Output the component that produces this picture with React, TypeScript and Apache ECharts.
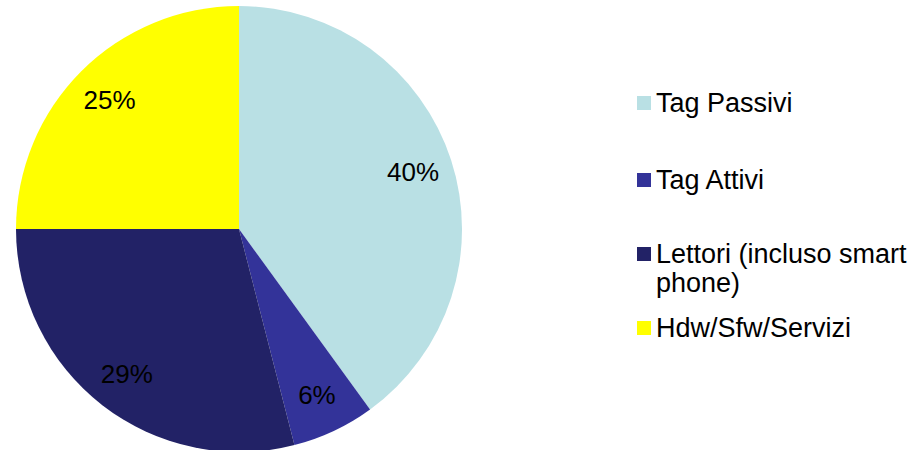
import React, { useEffect, useRef } from "react";
import * as echarts from "echarts";

const categories = ["Tag Passivi", "Tag Attivi", "Lettori (incluso smart phone)", "Hdw/Sfw/Servizi"];
const values = [40, 6, 29, 25];
const colors = ["#B9E0E4", "#333399", "#222266", "#FFFF00"];
const legendLines = [["Tag Passivi"], ["Tag Attivi"], ["Lettori (incluso smart", "phone)"], ["Hdw/Sfw/Servizi"]];

const FONT = "'Liberation Sans', Arial, Helvetica, sans-serif";
const FS = 27;
const LH = 29;

export default function App() {
  const ref = useRef<HTMLDivElement>(null);
  useEffect(() => {
    if (!ref.current) return;
    const chart = echarts.init(ref.current, undefined, { renderer: "svg" });
    const data = categories.map((name, i) => ({ name, value: values[i], itemStyle: { color: colors[i] } }));
    const legendCenters = [103, 180, 254, 328];
    const legends = categories.map((name, i) => {
      const lines = legendLines[i];
      // for multi-line entries, a leading blank line keeps the first line level with the icon
      const text = lines.length > 1 ? "\n" + lines.join("\n") : lines[0];
      const nLines = lines.length > 1 ? 3 : 1;
      const h = nLines * LH;
      return {
        orient: "vertical",
        left: 637,
        top: legendCenters[i] - h / 2,
        padding: 0,
        itemWidth: 14,
        itemHeight: 14,
        icon: "rect",
        selectedMode: false,
        data: [{ name, itemStyle: { color: colors[i] } }],
        formatter: () => text,
        textStyle: { fontFamily: FONT, fontSize: FS, lineHeight: LH, color: "#000" },
      };
    });
    chart.setOption({
      animation: false,
      backgroundColor: "#fff",
      legend: legends,
      series: [
        {
          type: "pie",
          center: [239, 229],
          radius: [0, 223],
          startAngle: 90,
          clockwise: true,
          silent: true,
          label: { show: false },
          labelLine: { show: false },
          itemStyle: { borderWidth: 0 },
          data,
        },
        {
          type: "pie",
          center: [239, 229],
          radius: [137, 223],
          startAngle: 90,
          clockwise: true,
          silent: true,
          itemStyle: { color: "rgba(0,0,0,0)", borderWidth: 0 },
          label: {
            show: true,
            position: "inside",
            formatter: "{c}%",
            fontFamily: FONT,
            fontSize: 26,
            color: "#000",
          },
          labelLine: { show: false },
          data: categories.map((name, i) => ({ name, value: values[i] })),
        },
      ],
    });
    return () => chart.dispose();
  }, []);
  return (
    <div
      ref={ref}
      style={{ position: "fixed", left: 0, top: 0, width: 915, height: 450 }}
    />
  );
}
